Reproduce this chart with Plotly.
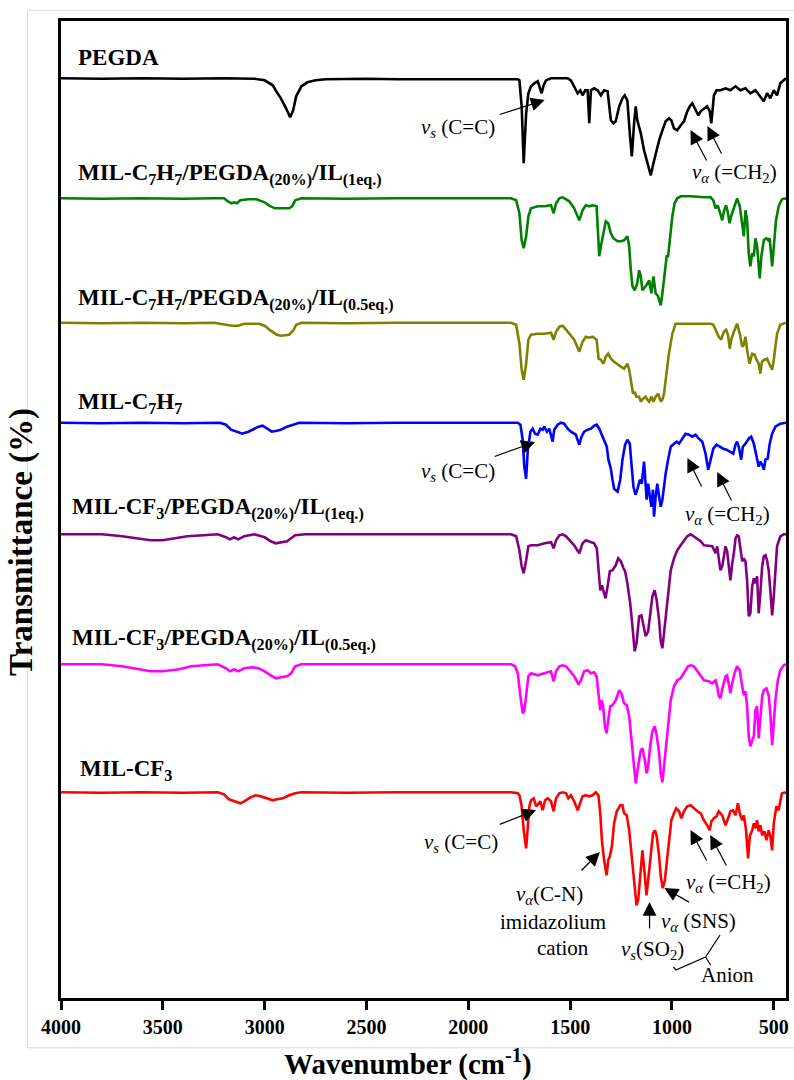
import plotly.graph_objects as go

# FTIR spectra, wavenumber (cm-1) vs. band depth below each trace's baseline (a.u.)
pegda = [(4000,0),(3800,0.5),(3600,0),(3400,0.5),(3200,0),(3100,0),(3050,0.5),(3000,2),(2960,7),(2940,14),(2920,20),(2895,30),(2875,39),(2860,32),(2845,18),(2820,8),(2790,4),(2750,2),(2700,1),(2500,0.5),(2345,1),(1757,1),(1749,2),(1738,28),(1728,85),(1716,35),(1705,15),(1692,8),(1676,5),(1659,3),(1646,12),(1640,15),(1630,7),(1618,2),(1594,0),(1512,0),(1496,2),(1480,8),(1463,15),(1450,12),(1439,17),(1426,12),(1414,12),(1406,45),(1398,12),(1382,10),(1365,12),(1349,17),(1333,12),(1316,13),(1300,42),(1287,45),(1276,43),(1259,28),(1243,20),(1232,17),(1219,22),(1207,55),(1197,78),(1186,45),(1178,28),(1170,42),(1153,55),(1137,72),(1121,85),(1104,97),(1091,85),(1080,75),(1063,62),(1047,52),(1031,43),(1014,40),(1003,42),(990,50),(974,52),(957,47),(941,43),(925,33),(912,28),(900,25),(884,32),(871,37),(859,33),(843,30),(827,28),(814,33),(807,45),(802,35),(794,17),(781,12),(762,12),(737,10),(713,12),(688,8),(664,12),(639,10),(615,15),(590,12),(566,18),(549,23),(533,15),(517,20),(500,12),(484,17),(468,5),(451,2),(440,0)]

c7h7_peg_1eq = [(4000,0),(3800,0.5),(3600,0),(3400,0.5),(3250,0),(3200,0),(3180,3),(3163,5),(3150,4),(3135,5),(3120,2),(3080,1),(3040,1),(3000,4),(2980,7),(2950,10),(2910,10),(2880,10),(2865,8),(2850,2),(2820,0),(2600,0.5),(2345,0),(1790,0),(1765,2),(1749,15),(1738,42),(1728,50),(1716,38),(1705,18),(1692,10),(1659,8),(1625,8),(1594,7),(1581,15),(1569,5),(1553,0),(1537,-1),(1520,1),(1504,3),(1480,10),(1455,22),(1439,12),(1423,7),(1406,8),(1390,7),(1370,8),(1365,32),(1357,58),(1349,48),(1336,35),(1325,23),(1313,25),(1300,35),(1287,40),(1267,43),(1251,43),(1235,42),(1219,38),(1210,48),(1202,72),(1194,88),(1183,92),(1170,85),(1161,72),(1153,78),(1145,92),(1129,88),(1112,82),(1101,95),(1091,78),(1080,95),(1068,98),(1055,107),(1047,95),(1039,78),(1026,58),(1019,58),(1010,38),(998,18),(987,5),(974,0),(957,-2),(908,-2),(843,-1),(810,-1),(797,2),(786,10),(775,7),(765,15),(753,22),(745,13),(734,7),(725,15),(717,25),(708,17),(696,10),(680,0),(667,8),(655,25),(647,38),(639,12),(631,22),(623,55),(615,68),(606,55),(598,58),(590,40),(582,48),(569,80),(561,58),(549,42),(536,40),(528,42),(520,40),(508,68),(500,48),(489,22),(476,8),(460,1),(440,0)]

c7h7_peg_05eq = [(4000,0),(3800,0.5),(3600,0),(3400,0.5),(3250,0),(3180,2),(3160,3),(3130,3),(3100,1),(3030,1),(3000,3),(2970,8),(2940,12),(2920,13),(2880,12),(2860,8),(2845,2),(2820,0),(2600,0.5),(2345,0),(1790,0),(1765,2),(1749,21),(1738,47),(1728,57),(1716,41),(1705,17),(1692,12),(1659,11),(1625,11),(1594,10),(1581,17),(1569,9),(1553,4),(1537,3),(1520,7),(1504,11),(1480,17),(1455,29),(1439,19),(1423,14),(1406,15),(1390,14),(1370,17),(1360,36),(1349,37),(1336,41),(1325,34),(1313,31),(1300,36),(1284,39),(1267,42),(1251,44),(1235,46),(1219,41),(1210,47),(1202,57),(1191,71),(1183,69),(1174,74),(1161,74),(1153,79),(1142,76),(1129,74),(1121,77),(1112,79),(1101,74),(1091,79),(1080,74),(1068,71),(1055,79),(1047,77),(1039,71),(1026,51),(1015,31),(998,11),(982,1),(966,1),(875,1),(810,1),(797,2),(786,7),(770,14),(758,17),(745,9),(734,7),(725,12),(716,26),(708,16),(696,9),(680,1),(667,11),(655,24),(647,22),(639,14),(631,27),(619,41),(606,31),(594,32),(585,37),(574,41),(566,51),(558,39),(546,37),(533,36),(520,42),(508,47),(500,37),(484,11),(468,2),(451,1),(440,0)]

c7h7 = [(4000,0),(3800,0.5),(3600,0),(3400,0.5),(3220,0),(3190,2),(3165,7),(3150,8),(3130,10),(3110,11),(3080,9),(3050,6),(3030,4),(3010,3),(2990,6),(2965,9),(2940,8),(2920,7),(2890,4),(2860,2),(2830,0),(2600,0.5),(2345,0),(1757,0),(1744,2),(1733,17),(1725,44),(1716,56),(1708,27),(1695,9),(1684,6),(1672,11),(1659,12),(1646,6),(1635,7),(1627,4),(1614,9),(1602,6),(1586,19),(1578,7),(1561,2),(1545,0),(1529,1),(1512,6),(1496,9),(1472,12),(1455,22),(1444,14),(1431,9),(1414,7),(1398,6),(1382,3),(1369,2),(1357,6),(1346,11),(1333,17),(1320,24),(1312,37),(1300,46),(1292,57),(1284,66),(1267,69),(1254,57),(1243,37),(1230,22),(1219,17),(1207,21),(1199,41),(1189,64),(1179,72),(1170,67),(1158,57),(1148,61),(1137,39),(1130,57),(1124,77),(1117,61),(1109,74),(1101,84),(1093,67),(1088,94),(1080,74),(1072,61),(1063,74),(1055,84),(1047,77),(1039,61),(1031,51),(1019,37),(1006,24),(990,21),(977,19),(965,21),(949,16),(933,11),(916,12),(900,14),(884,12),(868,16),(851,19),(835,31),(822,47),(810,36),(797,26),(781,22),(765,24),(748,26),(732,27),(716,29),(699,31),(688,22),(680,19),(672,24),(660,37),(652,24),(639,21),(623,16),(611,14),(598,21),(585,34),(574,44),(566,39),(557,42),(549,47),(541,37),(530,36),(520,21),(508,11),(492,4),(468,1),(451,0),(440,0)]

cf3_peg_1eq = [(4000,0),(3800,0),(3700,2),(3620,4),(3560,6),(3500,6),(3440,4),(3380,2),(3300,1),(3230,0),(3190,3),(3170,5),(3150,3),(3130,5),(3100,2),(3050,0),(3000,3),(2970,7),(2945,9),(2920,8),(2890,7),(2870,4),(2850,1),(2800,0),(2345,0),(1790,0),(1765,2),(1749,16),(1738,32),(1728,39),(1716,26),(1705,12),(1692,11),(1659,11),(1625,9),(1594,8),(1581,14),(1569,6),(1553,1),(1537,0),(1520,2),(1504,6),(1480,11),(1455,19),(1439,9),(1423,6),(1406,7),(1382,9),(1369,14),(1360,42),(1352,56),(1344,51),(1336,56),(1326,64),(1316,52),(1305,37),(1292,36),(1276,31),(1264,24),(1251,27),(1238,34),(1230,37),(1219,49),(1205,69),(1194,92),(1183,117),(1174,109),(1161,82),(1150,81),(1140,91),(1129,102),(1117,97),(1107,82),(1096,62),(1085,56),(1075,66),(1063,86),(1055,107),(1047,114),(1039,99),(1031,79),(1019,56),(1006,36),(990,24),(974,16),(957,11),(941,6),(925,2),(908,0),(892,2),(875,5),(859,7),(843,11),(819,12),(802,12),(786,19),(778,12),(770,24),(762,36),(753,32),(745,19),(737,12),(729,17),(721,31),(713,46),(704,29),(696,19),(688,4),(680,1),(672,2),(664,16),(655,27),(647,24),(639,27),(631,46),(623,82),(615,79),(606,52),(598,44),(590,49),(582,42),(574,79),(566,59),(557,32),(549,22),(541,21),(533,26),(525,36),(517,56),(508,81),(500,62),(492,32),(484,12),(468,2),(451,0),(440,0)]

cf3_peg_05eq = [(4000,0),(3800,0),(3700,2),(3620,5),(3560,7),(3500,7),(3420,5),(3360,2),(3300,1),(3230,0),(3190,4),(3170,7),(3150,5),(3130,7),(3100,4),(3060,3),(3030,4),(3000,7),(2970,11),(2945,14),(2920,13),(2890,12),(2870,9),(2850,2),(2820,0),(2345,0),(1790,0),(1770,2),(1757,9),(1744,32),(1733,49),(1725,47),(1716,29),(1705,12),(1692,9),(1676,10),(1659,11),(1627,9),(1594,7),(1581,17),(1569,7),(1553,2),(1537,1),(1520,2),(1504,6),(1480,12),(1458,20),(1447,16),(1431,7),(1414,6),(1398,9),(1382,8),(1370,12),(1360,34),(1352,46),(1346,36),(1338,42),(1329,62),(1321,69),(1313,56),(1303,42),(1292,41),(1276,36),(1259,26),(1248,29),(1235,39),(1222,41),(1210,52),(1199,76),(1189,102),(1178,119),(1166,102),(1153,86),(1145,84),(1133,96),(1124,109),(1117,102),(1107,82),(1096,67),(1085,62),(1075,71),(1063,89),(1055,109),(1047,118),(1039,102),(1031,82),(1019,59),(1006,36),(990,22),(974,16),(957,14),(938,7),(921,2),(908,1),(892,2),(875,7),(859,12),(843,16),(819,17),(802,19),(786,16),(778,22),(770,32),(762,34),(750,22),(737,12),(729,11),(721,19),(713,29),(704,19),(693,9),(680,2),(667,6),(655,22),(647,31),(639,27),(631,42),(623,72),(615,82),(606,76),(598,72),(590,46),(582,42),(574,74),(566,52),(557,32),(549,26),(536,24),(525,31),(517,49),(508,81),(500,59),(492,36),(480,16),(468,6),(451,1),(440,0)]

cf3 = [(4000,0),(3800,0.5),(3600,0),(3400,0.5),(3230,0),(3200,2),(3175,7),(3160,8),(3140,9),(3120,11),(3100,9),(3070,5),(3045,3),(3020,4),(2990,6),(2960,8),(2940,7),(2910,6),(2880,3),(2850,1),(2820,0),(2600,0.5),(2345,0),(1790,0),(1757,1),(1749,3),(1738,14),(1728,38),(1716,56),(1708,38),(1700,14),(1692,8),(1679,6),(1667,14),(1656,11),(1646,9),(1635,18),(1623,8),(1610,6),(1594,9),(1581,19),(1569,6),(1553,1),(1537,0),(1520,1),(1509,6),(1496,3),(1480,9),(1463,18),(1450,11),(1439,4),(1423,3),(1406,4),(1390,3),(1374,0),(1361,3),(1352,21),(1344,48),(1333,68),(1321,83),(1313,68),(1305,64),(1295,54),(1284,31),(1271,19),(1254,13),(1243,13),(1235,21),(1222,23),(1210,38),(1197,64),(1186,88),(1174,113),(1166,108),(1156,81),(1145,58),(1135,79),(1125,103),(1117,88),(1104,58),(1093,41),(1083,38),(1075,44),(1063,64),(1055,84),(1045,96),(1035,88),(1026,71),(1014,48),(1003,28),(990,21),(979,16),(965,19),(954,26),(941,19),(925,14),(908,13),(892,16),(875,19),(859,21),(843,28),(827,33),(815,38),(806,29),(794,26),(781,24),(770,19),(753,23),(737,33),(724,26),(713,19),(700,18),(688,23),(676,11),(667,21),(655,28),(647,23),(636,38),(626,66),(618,44),(606,38),(598,31),(590,36),(582,28),(574,39),(566,33),(557,43),(546,39),(536,48),(525,38),(517,44),(508,58),(500,31),(487,14),(476,18),(468,9),(460,1),(440,0)]

names = [
    "<b>PEGDA</b>",
    "<b>MIL-C<sub>7</sub>H<sub>7</sub>/PEGDA<sub>(20%)</sub>/IL<sub>(1eq.)</sub></b>",
    "<b>MIL-C<sub>7</sub>H<sub>7</sub>/PEGDA<sub>(20%)</sub>/IL<sub>(0.5eq.)</sub></b>",
    "<b>MIL-C<sub>7</sub>H<sub>7</sub></b>",
    "<b>MIL-CF<sub>3</sub>/PEGDA<sub>(20%)</sub>/IL<sub>(1eq.)</sub></b>",
    "<b>MIL-CF<sub>3</sub>/PEGDA<sub>(20%)</sub>/IL<sub>(0.5eq.)</sub></b>",
    "<b>MIL-CF<sub>3</sub></b>",
]
spectra = [pegda, c7h7_peg_1eq, c7h7_peg_05eq, c7h7, cf3_peg_1eq, cf3_peg_05eq, cf3]
colors = ["#000000", "#008000", "#808000", "#0000ff", "#800080", "#ff00ff", "#ff0000"]
offsets = [919.7, 799.7, 675.3, 575.3, 463.7, 333.7, 205.7]
label_pos = [(3927, 941), (3927, 824), (3927, 699), (3927, 595), (3956, 490), (3956, 359), (3917, 228)]

x_ticks = [4000, 3500, 3000, 2500, 2000, 1500, 1000, 500]

SERIF = "Liberation Serif"

fig = go.Figure()
for spec, col, off in zip(spectra, colors, offsets):
    wn = [p[0] for p in spec]
    t = [off - p[1] for p in spec]
    fig.add_trace(go.Scatter(x=wn, y=t, mode="lines",
                             line=dict(color=col, width=2.6),
                             showlegend=False, hoverinfo="skip"))

annotations = []
for name, (lx, ly) in zip(names, label_pos):
    annotations.append(dict(x=lx, y=ly, xref="x", yref="y", text=name,
                            showarrow=False, xanchor="left", yanchor="middle",
                            font=dict(family=SERIF, size=23, color="black")))

VS = "<i>v<sub>s</sub></i>"
VA = "<i>v<sub>α</sub></i>"

band_text = [
    (2049, 870, VS + " (C=C)"),
    (694, 825, VA + " (=CH<sub>2</sub>)"),
    (2049, 526, VS + " (C=C)"),
    (729, 483, VA + " (=CH<sub>2</sub>)"),
    (2034, 155, VS + " (C=C)"),
    (1599, 103, VA + "(C-N)"),
    (1584, 76, "imidazolium"),
    (1535, 50, "cation"),
    (1095, 48, VS + "(SO<sub>2</sub>)"),
    (870, 76, VA + " (SNS)"),
    (724, 115, VA + " (=CH<sub>2</sub>)"),
    (729, 23, "Anion"),
]
for bx, by, txt in band_text:
    annotations.append(dict(x=bx, y=by, xref="x", yref="y", text=txt,
                            showarrow=False, xanchor="center", yanchor="middle",
                            font=dict(family=SERIF, size=21, color="black")))

# arrows: (tail wn, tail y, head wn, head y)
band_arrows = [
    (1853, 883, 1625, 898),
    (826, 836, 909, 868),
    (753, 843, 826, 872),
    (1878, 541, 1672, 556),
    (851, 510, 924, 540),
    (704, 496, 778, 526),
    (1853, 173, 1667, 188),
    (1452, 126, 1354, 146),
    (1110, 68, 1110, 96),
    (909, 95, 1037, 110),
    (826, 136, 909, 168),
    (729, 131, 812, 163),
]
for tx, ty, hx, hy in band_arrows:
    annotations.append(dict(x=hx, y=hy, ax=tx, ay=ty, xref="x", yref="y",
                            axref="x", ayref="y", text="", showarrow=True,
                            arrowhead=2, arrowsize=2.3, arrowwidth=1.2,
                            arrowcolor="black"))

annotations.append(dict(x=-0.0536, y=0.467, xref="paper", yref="paper",
                        text="<b>Transmittance (%)</b>", textangle=-90,
                        showarrow=False, xanchor="center", yanchor="middle",
                        font=dict(family=SERIF, size=33, color="black")))
annotations.append(dict(x=0.479, y=-0.0665, xref="paper", yref="paper",
                        text="<b>Wavenumber (cm<sup>-1</sup>)</b>",
                        showarrow=False, xanchor="center", yanchor="middle",
                        font=dict(family=SERIF, size=29, color="black")))

shapes = [
    dict(type="path", xref="x", yref="y",
         path="M 764,63 L 835,41 L 981,28 L 993,31 M 835,41 L 810,33",
         line=dict(color="black", width=1.2)),
    dict(type="rect", xref="paper", yref="paper", x0=-0.046, x1=1.02, y0=-0.051, y1=1.011,
         line=dict(color="#d9d9d9", width=1), layer="below"),
]

fig.update_layout(
    width=794, height=1080,
    margin=dict(l=61, r=5, t=21, b=82),
    paper_bgcolor="white", plot_bgcolor="white",
    annotations=annotations, shapes=shapes,
    xaxis=dict(range=[4000, 440], tickmode="array", tickvals=x_ticks,
               ticktext=[f"<b>{v}</b>" for v in x_ticks],
               ticks="outside", ticklen=9, tickwidth=3, tickcolor="black",
               showline=True, linewidth=3, linecolor="black", mirror=True,
               showgrid=False, zeroline=False,
               tickfont=dict(family=SERIF, size=20, color="black")),
    yaxis=dict(range=[0, 977], showticklabels=False, ticks="",
               showline=True, linewidth=3, linecolor="black", mirror=True,
               showgrid=False, zeroline=False),
)

fig.write_html("out.html")
